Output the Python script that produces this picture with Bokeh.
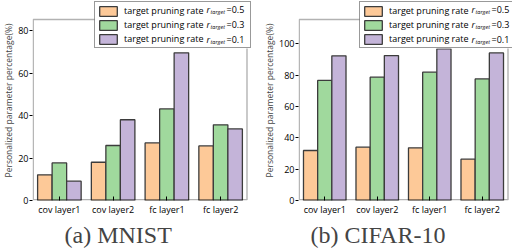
from bokeh.plotting import figure
from bokeh.layouts import row
from bokeh.models import (Range1d, Legend, LegendItem, Label, Title, BoxAnnotation,
                          FixedTicker, ColumnDataSource)
from bokeh.embed import file_html
from bokeh.resources import INLINE

categories = ["cov layer1", "cov layer2", "fc layer1", "fc layer2"]
rates = ["0.5", "0.3", "0.1"]

mnist_r05 = [12.1, 18.0, 27.1, 25.7]
mnist_r03 = [17.7, 25.9, 43.1, 35.6]
mnist_r01 = [9.1, 38.0, 69.5, 33.7]

cifar_r05 = [31.9, 34.0, 33.6, 26.4]
cifar_r03 = [76.6, 78.7, 81.9, 77.6]
cifar_r01 = [92.3, 92.5, 96.8, 94.2]

mnist_ticks = [0, 20, 40, 60, 80]
cifar_ticks = [0, 20, 40, 60, 80, 100]

colors = ["#FDC998", "#A0D99D", "#C4B4D9"]
FONT = "Open Sans"
FIG_W = 256
FRAME_H = 200      # frame covers the canvas from the top down to the x axis
PLOT_TOP = 19      # where the drawn box starts inside the frame
BOTTOM = 52
ROW_H = 14
SPACING = 1
PAD = 2
LEG_H = 2 * PAD + 3 * ROW_H + 2 * SPACING
LEG_W = 155
BAR_W = 0.27


def make_panel(series, ymax, ticks, caption, bl, pw, legend_left, caption_offset):
    n = len(categories)
    centers = [i + 0.5 for i in range(n)]
    fwt = FIG_W - bl
    ph = FRAME_H - PLOT_TOP
    p = figure(frame_width=fwt, frame_height=FRAME_H,
               x_range=Range1d(0, n * fwt / pw),
               y_range=Range1d(0, ymax * FRAME_H / ph), output_backend="svg",
               toolbar_location=None, min_border_left=bl, min_border_right=0,
               min_border_top=0, min_border_bottom=BOTTOM)
    p.grid.visible = False
    p.outline_line_color = None
    p.background_fill_color = "white"
    p.border_fill_color = "white"

    def dx(fx):
        return (fx - bl) / pw * n

    def dy(fy):
        return (FRAME_H - fy) / ph * ymax

    rends = []
    for k, (vals, col) in enumerate(zip(series, colors)):
        off = (k - 1) * BAR_W
        src = ColumnDataSource(dict(x=[c + off for c in centers], top=vals))
        r = p.vbar(x="x", top="top", width=BAR_W, source=src, fill_color=col,
                   line_color="#3c3c3c", line_width=1.3)
        rends.append(r)

    for ax in (p.xaxis[0], p.yaxis[0]):
        ax.axis_line_color = None
        ax.major_tick_line_color = "black"
        ax.major_tick_line_width = 1
        ax.minor_tick_line_color = None
        ax.major_label_text_font = FONT
        ax.major_label_text_font_size = "9px"
        ax.major_label_text_color = "black"
    p.yaxis.ticker = FixedTicker(ticks=ticks)
    p.yaxis.major_tick_in = 0
    p.yaxis.major_tick_out = 3
    p.yaxis.major_label_standoff = 1
    p.yaxis.axis_label = "Personalized parameter percentage(%)"
    p.yaxis.axis_label_text_font = FONT
    p.yaxis.axis_label_text_font_size = "8.5px"
    p.yaxis.axis_label_text_font_style = "normal"
    p.yaxis.axis_label_standoff = 1
    p.xaxis.ticker = FixedTicker(ticks=centers)
    p.xaxis.major_label_overrides = {c: cat for c, cat in zip(centers, categories)}
    p.xaxis.major_tick_in = 4
    p.xaxis.major_tick_out = 0
    p.xaxis.major_label_standoff = 2

    p.add_layout(Title(text=caption, align="left", offset=caption_offset,
                       text_font="Liberation Serif", text_font_size="24px",
                       text_font_style="normal", standoff=2), "below")

    # plot box (frame outline)
    p.add_layout(BoxAnnotation(left=dx(bl + 0.75), right=dx(bl + pw - 0.5),
                               bottom=dy(FRAME_H - 0.75), top=dy(PLOT_TOP),
                               fill_alpha=0, line_color="black", line_width=1.4,
                               level="annotation"))
    # white patch behind the legend
    p.add_layout(BoxAnnotation(left=dx(legend_left), right=dx(legend_left + LEG_W),
                               top=dy(0), bottom=dy(LEG_H), fill_color="white",
                               fill_alpha=1, line_color=None, level="annotation"))

    items = [LegendItem(label="target pruning rate", renderers=[r]) for r in rends]
    leg = Legend(items=items, location=(legend_left - bl, FRAME_H - LEG_H),
                 orientation="vertical", glyph_width=22, glyph_height=12,
                 label_height=12, label_width=124, label_standoff=5,
                 spacing=SPACING, padding=PAD, margin=0,
                 border_line_color="#333333", border_line_width=1,
                 background_fill_alpha=0, label_text_font=FONT,
                 label_text_font_size="9px", label_text_color="black")
    p.add_layout(leg, "center")

    for i, rt in enumerate(rates):
        cy = PAD + ROW_H / 2 + i * (ROW_H + SPACING)
        p.add_layout(Label(x=dx(legend_left + 112), y=dy(cy), text="r",
                           text_color="black",
                           text_font=FONT, text_font_size="9px", level="overlay",
                           text_font_style="italic", text_baseline="middle"))
        p.add_layout(Label(x=dx(legend_left + 116), y=dy(cy + 2.5), text="target",
                           text_color="black",
                           text_font=FONT, text_font_size="5.5px", level="overlay",
                           text_font_style="italic", text_baseline="middle"))
        p.add_layout(Label(x=dx(legend_left + 132), y=dy(cy), text="=" + rt,
                           text_color="black",
                           text_font=FONT, text_font_size="9px", level="overlay",
                           text_baseline="middle"))
    return p


p1 = make_panel([mnist_r05, mnist_r03, mnist_r01], 85.2, mnist_ticks, "(a) MNIST",
                28, 215, 90, 32)
p2 = make_panel([cifar_r05, cifar_r03, cifar_r01], 115.5, cifar_ticks, "(b) CIFAR-10",
                38, 210, 99, 12)

layout = row(p1, p2, spacing=0)
open("out.html", "w").write(file_html(layout, INLINE))
